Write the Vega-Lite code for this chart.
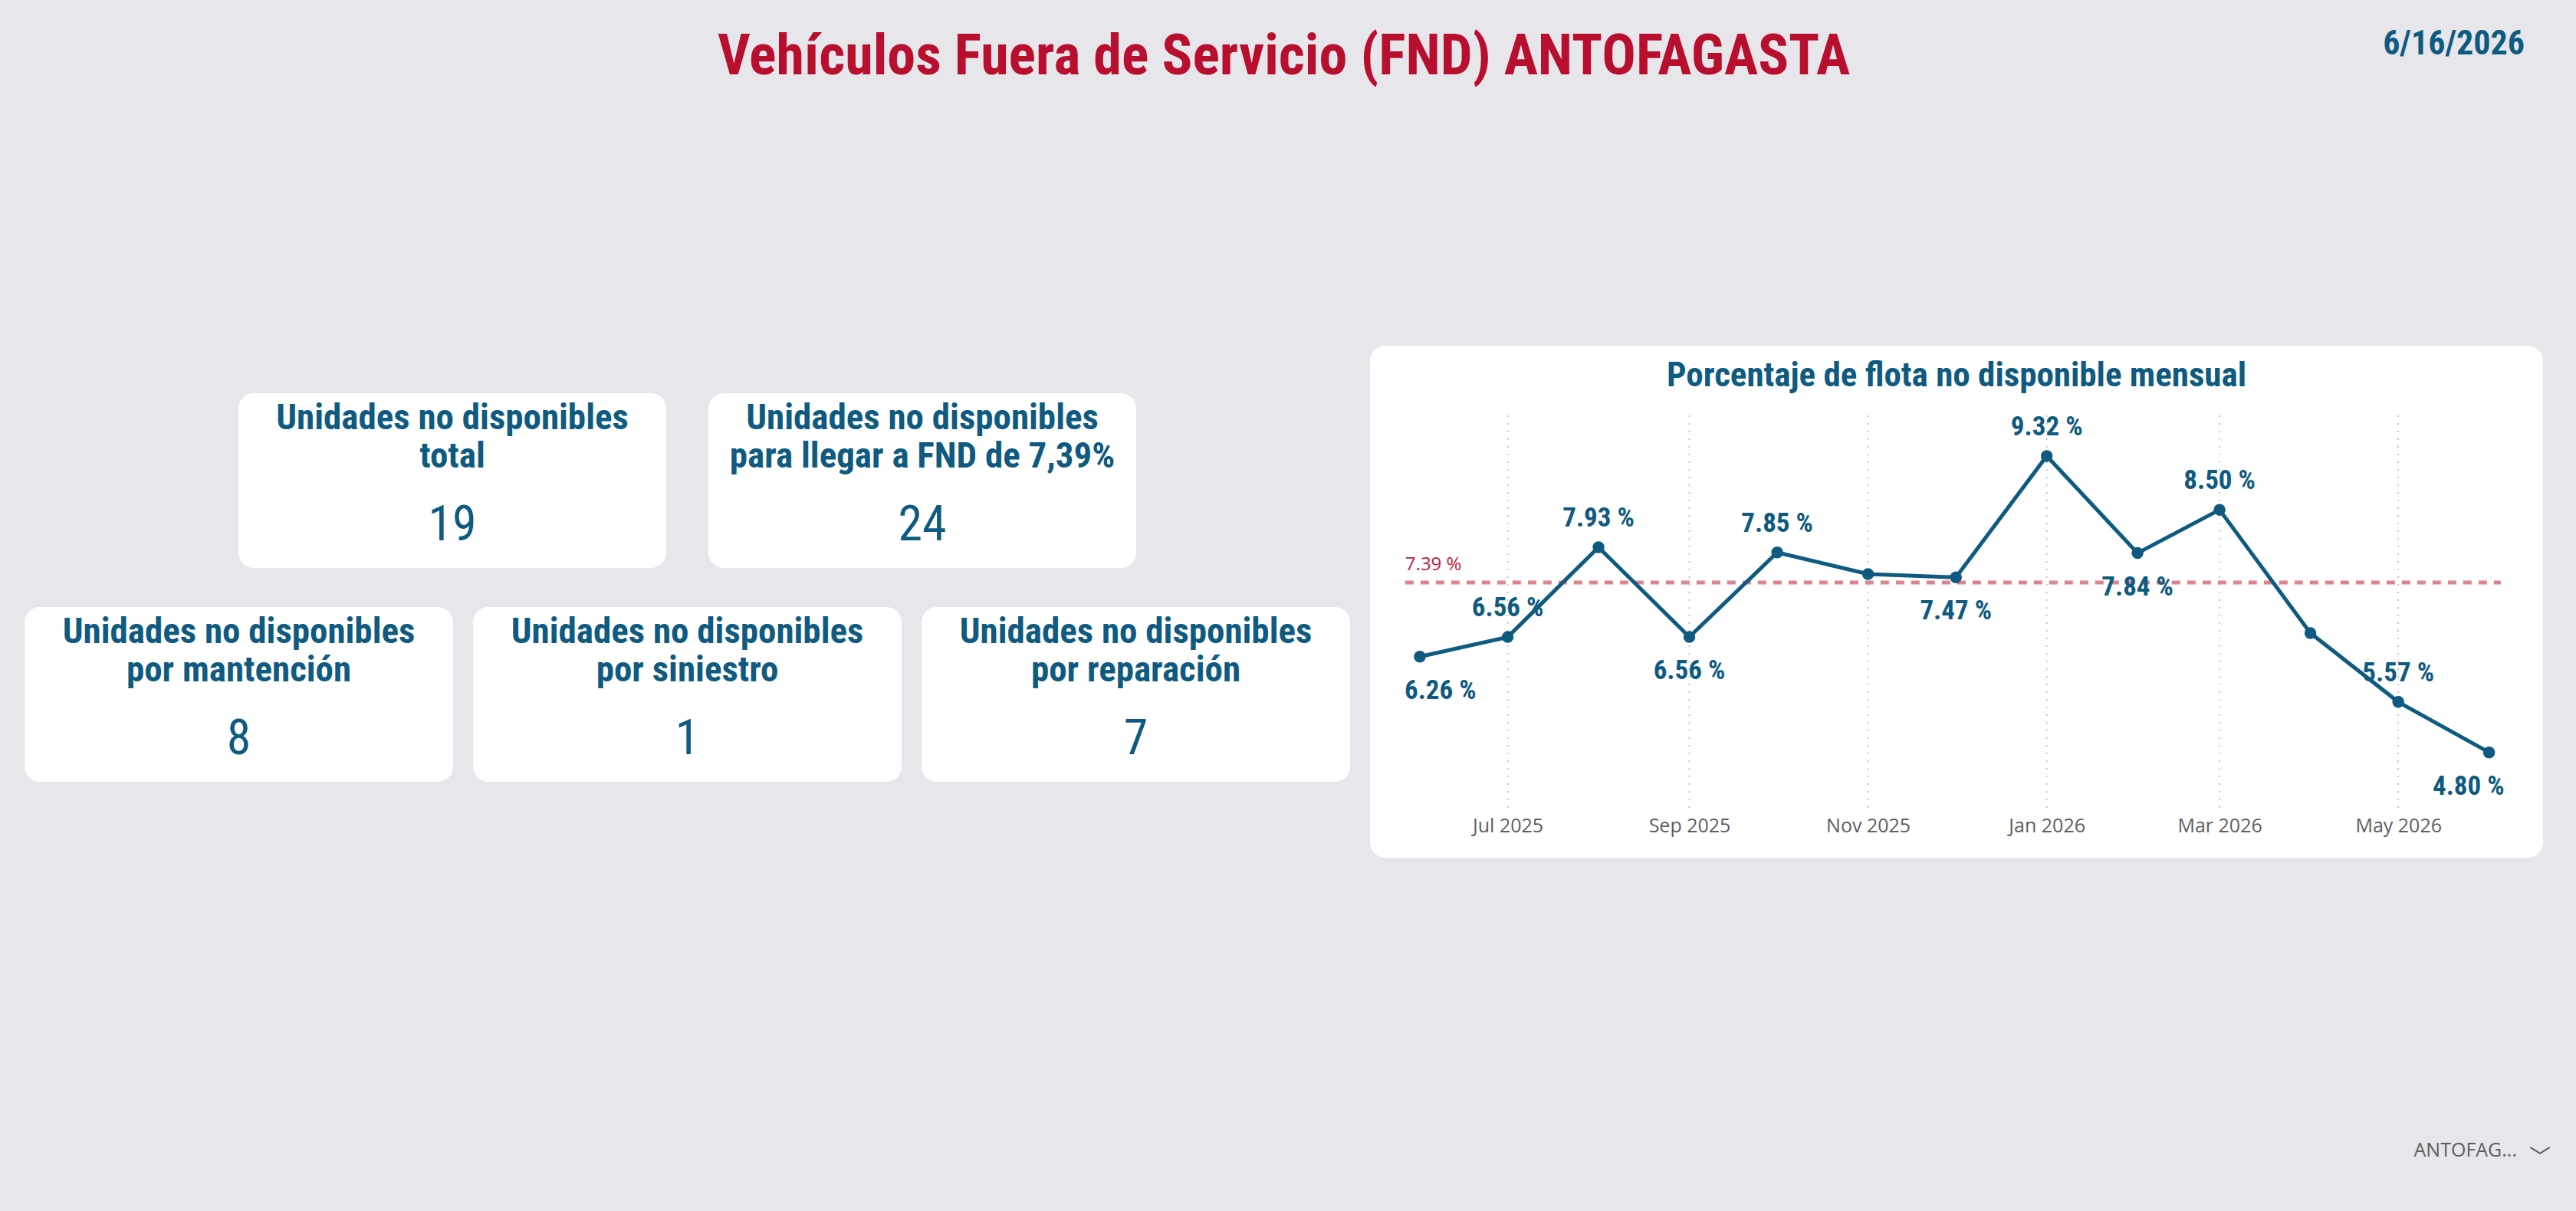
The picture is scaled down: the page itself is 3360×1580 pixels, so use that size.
{
  "$schema": "https://vega.github.io/schema/vega-lite/v6.json",
  "description": "Tablero de vehículos fuera de servicio: tarjetas KPI y serie mensual del porcentaje de flota no disponible.",
  "background": "#E6E6EB",
  "padding": {"left": 32, "right": 33, "top": 10, "bottom": 14},
  "datasets": {
    "encabezado": [
      {"titulo": "Vehículos Fuera de Servicio (FND) ANTOFAGASTA", "fecha": "6/16/2026"}
    ],
    "tarjetas": [
      {"id": "total", "titulo": "Unidades no disponibles\ntotal", "valor": 19},
      {"id": "meta", "titulo": "Unidades no disponibles\npara llegar a FND de 7,39%", "valor": 24},
      {"id": "mantencion", "titulo": "Unidades no disponibles\npor mantención", "valor": 8},
      {"id": "siniestro", "titulo": "Unidades no disponibles\npor siniestro", "valor": 1},
      {"id": "reparacion", "titulo": "Unidades no disponibles\npor reparación", "valor": 7}
    ],
    "serie": [
      {"mes": "2025-06-01T00:00:00", "valor": 6.26},
      {"mes": "2025-07-01T00:00:00", "valor": 6.56},
      {"mes": "2025-08-01T00:00:00", "valor": 7.93},
      {"mes": "2025-09-01T00:00:00", "valor": 6.56},
      {"mes": "2025-10-01T00:00:00", "valor": 7.85},
      {"mes": "2025-11-01T00:00:00", "valor": 7.52},
      {"mes": "2025-12-01T00:00:00", "valor": 7.47},
      {"mes": "2026-01-01T00:00:00", "valor": 9.32},
      {"mes": "2026-02-01T00:00:00", "valor": 7.84},
      {"mes": "2026-03-01T00:00:00", "valor": 8.50},
      {"mes": "2026-04-01T00:00:00", "valor": 6.62},
      {"mes": "2026-05-01T00:00:00", "valor": 5.57},
      {"mes": "2026-06-01T00:00:00", "valor": 4.80}
    ],
    "meta": [
      {"meta": 7.39}
    ],
    "filtro": [
      {"region": "ANTOFAG...", "icono": "﹀"}
    ]
  },
  "spacing": 314,
  "vconcat": [
    {
      "description": "Encabezado: título del tablero y fecha de corte",
      "width": 3285,
      "height": 126,
      "data": {"name": "encabezado"},
      "layer": [
        {
          "mark": {"type": "text", "font": "Liberation Sans Narrow, Roboto Condensed, Roboto, sans-serif", "fontSize": 74, "fontWeight": "bold", "color": "#B80F2E", "baseline": "alphabetic", "dy": 24},
          "encoding": {"text": {"field": "titulo"}}
        },
        {
          "mark": {"type": "text", "font": "Liberation Sans Narrow, Roboto Condensed, Roboto, sans-serif", "fontSize": 44, "fontWeight": "bold", "color": "#0E5A80", "baseline": "alphabetic", "align": "right", "dx": -24, "dy": -2},
          "encoding": {
            "x": {"datum": 1, "type": "quantitative", "scale": {"domain": [0, 1]}, "axis": null},
            "text": {"field": "fecha"}
          }
        }
      ]
    },
    {
      "spacing": 26,
      "hconcat": [
        {
          "description": "Columna de tarjetas KPI",
          "spacing": 51,
          "center": true,
          "vconcat": [
            {
              "width": 1,
              "height": 11,
              "data": {"values": [{}]},
              "mark": {"type": "text", "text": ""}
            },
            {
              "spacing": 55,
              "hconcat": [
                {
                  "width": 558, "height": 228,
                  "view": {"fill": "white", "cornerRadius": 20},
                  "data": {"name": "tarjetas"},
                  "transform": [{"filter": "datum.id == 'total'"}],
                  "layer": [
                    {"mark": {"type": "text", "font": "Liberation Sans Narrow, Roboto Condensed, Roboto, sans-serif", "fontSize": 47, "fontWeight": "bold", "color": "#0E5A80", "baseline": "alphabetic", "lineBreak": "\n", "lineHeight": 50, "dy": -67}, "encoding": {"text": {"field": "titulo"}}},
                    {"mark": {"type": "text", "font": "Liberation Sans Narrow, Roboto Condensed, Roboto, sans-serif", "fontSize": 64, "color": "#0E5A80", "baseline": "alphabetic", "dy": 78}, "encoding": {"text": {"field": "valor", "type": "quantitative", "format": "d"}}}
                  ]
                },
                {
                  "width": 558, "height": 228,
                  "view": {"fill": "white", "cornerRadius": 20},
                  "data": {"name": "tarjetas"},
                  "transform": [{"filter": "datum.id == 'meta'"}],
                  "layer": [
                    {"mark": {"type": "text", "font": "Liberation Sans Narrow, Roboto Condensed, Roboto, sans-serif", "fontSize": 47, "fontWeight": "bold", "color": "#0E5A80", "baseline": "alphabetic", "lineBreak": "\n", "lineHeight": 50, "dy": -67}, "encoding": {"text": {"field": "titulo"}}},
                    {"mark": {"type": "text", "font": "Liberation Sans Narrow, Roboto Condensed, Roboto, sans-serif", "fontSize": 64, "color": "#0E5A80", "baseline": "alphabetic", "dy": 78}, "encoding": {"text": {"field": "valor", "type": "quantitative", "format": "d"}}}
                  ]
                }
              ]
            },
            {
              "spacing": 26,
              "hconcat": [
                {
                  "width": 559, "height": 228,
                  "view": {"fill": "white", "cornerRadius": 20},
                  "data": {"name": "tarjetas"},
                  "transform": [{"filter": "datum.id == 'mantencion'"}],
                  "layer": [
                    {"mark": {"type": "text", "font": "Liberation Sans Narrow, Roboto Condensed, Roboto, sans-serif", "fontSize": 47, "fontWeight": "bold", "color": "#0E5A80", "baseline": "alphabetic", "lineBreak": "\n", "lineHeight": 50, "dy": -67}, "encoding": {"text": {"field": "titulo"}}},
                    {"mark": {"type": "text", "font": "Liberation Sans Narrow, Roboto Condensed, Roboto, sans-serif", "fontSize": 64, "color": "#0E5A80", "baseline": "alphabetic", "dy": 78}, "encoding": {"text": {"field": "valor", "type": "quantitative", "format": "d"}}}
                  ]
                },
                {
                  "width": 559, "height": 228,
                  "view": {"fill": "white", "cornerRadius": 20},
                  "data": {"name": "tarjetas"},
                  "transform": [{"filter": "datum.id == 'siniestro'"}],
                  "layer": [
                    {"mark": {"type": "text", "font": "Liberation Sans Narrow, Roboto Condensed, Roboto, sans-serif", "fontSize": 47, "fontWeight": "bold", "color": "#0E5A80", "baseline": "alphabetic", "lineBreak": "\n", "lineHeight": 50, "dy": -67}, "encoding": {"text": {"field": "titulo"}}},
                    {"mark": {"type": "text", "font": "Liberation Sans Narrow, Roboto Condensed, Roboto, sans-serif", "fontSize": 64, "color": "#0E5A80", "baseline": "alphabetic", "dy": 78}, "encoding": {"text": {"field": "valor", "type": "quantitative", "format": "d"}}}
                  ]
                },
                {
                  "width": 559, "height": 228,
                  "view": {"fill": "white", "cornerRadius": 20},
                  "data": {"name": "tarjetas"},
                  "transform": [{"filter": "datum.id == 'reparacion'"}],
                  "layer": [
                    {"mark": {"type": "text", "font": "Liberation Sans Narrow, Roboto Condensed, Roboto, sans-serif", "fontSize": 47, "fontWeight": "bold", "color": "#0E5A80", "baseline": "alphabetic", "lineBreak": "\n", "lineHeight": 50, "dy": -67}, "encoding": {"text": {"field": "titulo"}}},
                    {"mark": {"type": "text", "font": "Liberation Sans Narrow, Roboto Condensed, Roboto, sans-serif", "fontSize": 64, "color": "#0E5A80", "baseline": "alphabetic", "dy": 78}, "encoding": {"text": {"field": "valor", "type": "quantitative", "format": "d"}}}
                  ]
                }
              ]
            }
          ]
        },
        {
          "description": "Serie mensual del porcentaje de flota no disponible con la meta de 7.39 %",
          "width": 1530,
          "height": 668,
          "view": {"fill": "white", "cornerRadius": 20},
          "title": {
            "text": "Porcentaje de flota no disponible mensual",
            "anchor": "middle",
            "offset": -62,
            "font": "Liberation Sans Narrow, Roboto Condensed, Roboto, sans-serif",
            "fontSize": 45,
            "fontWeight": "bold",
            "color": "#0E5A80"
          },
          "layer": [
            {
              "data": {"name": "serie"},
              "transform": [{"filter": "month(toDate(datum.mes)) % 2 == 0"}],
              "mark": {"type": "rule", "color": "#C8C6C4", "strokeWidth": 2, "strokeDash": [2, 8]},
              "encoding": {
                "x": {
                  "field": "mes", "type": "temporal",
                  "scale": {"domain": [{"year": 2025, "month": 5, "date": 15}, {"year": 2026, "month": 6, "date": 19, "hours": 10}]},
                  "axis": {
                    "values": [
                      {"year": 2025, "month": 7, "date": 1},
                      {"year": 2025, "month": 9, "date": 1},
                      {"year": 2025, "month": 11, "date": 1},
                      {"year": 2026, "month": 1, "date": 1},
                      {"year": 2026, "month": 3, "date": 1},
                      {"year": 2026, "month": 5, "date": 1}
                    ],
                    "format": "%b %Y",
                    "title": null,
                    "orient": "bottom",
                    "offset": -64,
                    "domain": false,
                    "ticks": false,
                    "grid": false,
                    "labelPadding": 10,
                    "labelFlush": false,
                    "labelOverlap": false,
                    "labelBaseline": "top",
                    "labelFont": "Open Sans, Noto Sans, sans-serif",
                    "labelFontSize": 25,
                    "labelColor": "#605E5C"
                  }
                },
                "y": {"datum": 9.94, "type": "quantitative", "scale": {"domain": [3.195, 11.003], "nice": false, "zero": false}, "axis": null},
                "y2": {"datum": 3.94}
              }
            },
            {
              "data": {"name": "meta"},
              "mark": {"type": "rule", "color": "#DC8490", "strokeWidth": 5, "strokeDash": [11, 9]},
              "encoding": {
                "x": {"datum": {"year": 2025, "month": 5, "date": 27}, "type": "temporal"},
                "x2": {"datum": {"year": 2026, "month": 6, "date": 5}},
                "y": {"field": "meta", "type": "quantitative", "axis": null}
              }
            },
            {
              "data": {"name": "meta"},
              "mark": {"type": "text", "align": "left", "baseline": "alphabetic", "dy": -16, "font": "Open Sans, Noto Sans, sans-serif", "fontSize": 24, "color": "#C3203B", "text": {"expr": "format(datum.meta, '.2f') + ' %'"}},
              "encoding": {
                "x": {"datum": {"year": 2025, "month": 5, "date": 27}, "type": "temporal"},
                "y": {"field": "meta", "type": "quantitative", "axis": null}
              }
            },
            {
              "data": {"name": "serie"},
              "mark": {"type": "line", "color": "#0E5A80", "strokeWidth": 5},
              "encoding": {
                "x": {"field": "mes", "type": "temporal"},
                "y": {"field": "valor", "type": "quantitative", "axis": null}
              }
            },
            {
              "data": {"name": "serie"},
              "mark": {"type": "circle", "color": "#0E5A80", "size": 240, "opacity": 1},
              "encoding": {
                "x": {"field": "mes", "type": "temporal"},
                "y": {"field": "valor", "type": "quantitative", "axis": null}
              }
            },
            {
              "data": {"name": "serie"},
              "transform": [{"filter": "indexof(['2025-07', '2025-08', '2025-10', '2026-01', '2026-03', '2026-05'], timeFormat(toDate(datum.mes), '%Y-%m')) >= 0"}],
              "mark": {"type": "text", "baseline": "middle", "dy": -38, "font": "Liberation Sans Narrow, Roboto Condensed, Roboto, sans-serif", "fontSize": 35, "fontWeight": "bold", "color": "#0E5A80", "text": {"expr": "format(datum.valor, '.2f') + ' %'"}},
              "encoding": {
                "x": {"field": "mes", "type": "temporal"},
                "y": {"field": "valor", "type": "quantitative", "axis": null}
              }
            },
            {
              "data": {"name": "serie"},
              "transform": [{"filter": "indexof(['2025-09', '2025-12', '2026-02'], timeFormat(toDate(datum.mes), '%Y-%m')) >= 0"}],
              "mark": {"type": "text", "baseline": "middle", "dy": 44, "font": "Liberation Sans Narrow, Roboto Condensed, Roboto, sans-serif", "fontSize": 35, "fontWeight": "bold", "color": "#0E5A80", "text": {"expr": "format(datum.valor, '.2f') + ' %'"}},
              "encoding": {
                "x": {"field": "mes", "type": "temporal"},
                "y": {"field": "valor", "type": "quantitative", "axis": null}
              }
            },
            {
              "data": {"name": "serie"},
              "transform": [{"filter": "timeFormat(toDate(datum.mes), '%Y-%m') == '2025-06'"}],
              "mark": {"type": "text", "baseline": "middle", "align": "left", "dx": -20, "dy": 44, "font": "Liberation Sans Narrow, Roboto Condensed, Roboto, sans-serif", "fontSize": 35, "fontWeight": "bold", "color": "#0E5A80", "text": {"expr": "format(datum.valor, '.2f') + ' %'"}},
              "encoding": {
                "x": {"field": "mes", "type": "temporal"},
                "y": {"field": "valor", "type": "quantitative", "axis": null}
              }
            },
            {
              "data": {"name": "serie"},
              "transform": [{"filter": "timeFormat(toDate(datum.mes), '%Y-%m') == '2026-06'"}],
              "mark": {"type": "text", "baseline": "middle", "align": "right", "dx": 20, "dy": 44, "font": "Liberation Sans Narrow, Roboto Condensed, Roboto, sans-serif", "fontSize": 35, "fontWeight": "bold", "color": "#0E5A80", "text": {"expr": "format(datum.valor, '.2f') + ' %'"}},
              "encoding": {
                "x": {"field": "mes", "type": "temporal"},
                "y": {"field": "valor", "type": "quantitative", "axis": null}
              }
            }
          ]
        }
      ]
    },
    {
      "description": "Segmentador de región",
      "width": 3295,
      "height": 134,
      "data": {"name": "filtro"},
      "layer": [
        {
          "mark": {"type": "text", "align": "right", "baseline": "alphabetic", "dx": -44, "dy": 9, "font": "Open Sans, Noto Sans, sans-serif", "fontSize": 25, "color": "#605E5C"},
          "encoding": {
            "x": {"datum": 1, "type": "quantitative", "scale": {"domain": [0, 1]}, "axis": null},
            "text": {"field": "region"}
          }
        },
        {
          "mark": {"type": "text", "align": "right", "baseline": "middle", "dy": 12, "font": "Noto Sans CJK SC, sans-serif", "fontSize": 28, "color": "#605E5C"},
          "encoding": {
            "x": {"datum": 1, "type": "quantitative", "scale": {"domain": [0, 1]}, "axis": null},
            "text": {"field": "icono"}
          }
        }
      ]
    }
  ],
  "config": {
    "view": {"stroke": null},
    "concat": {"spacing": 26}
  }
}
